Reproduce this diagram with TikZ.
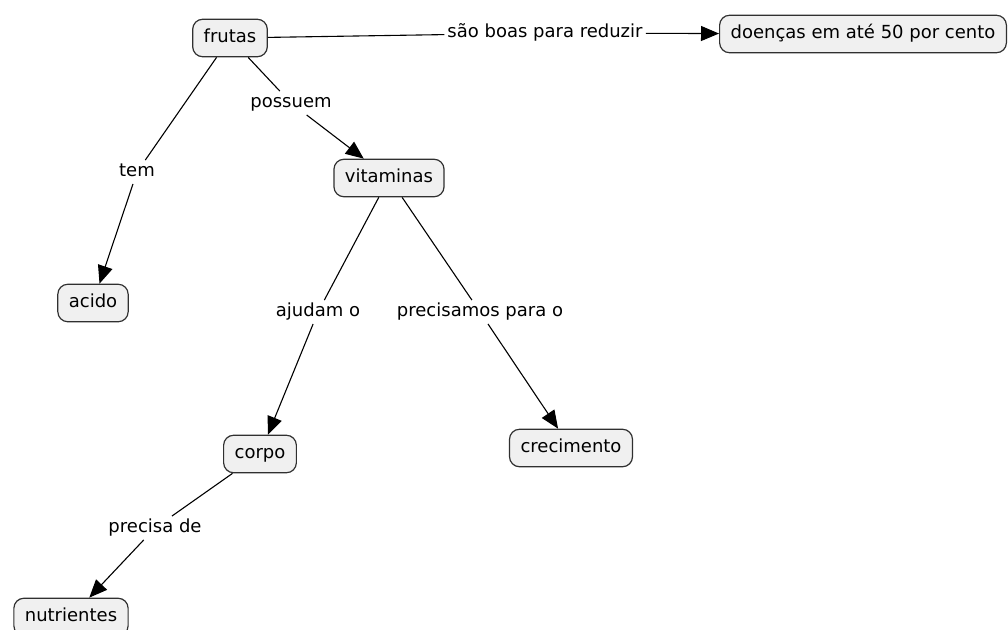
\documentclass[tikz,border=0pt]{standalone}
\usepackage{fontspec}
\setmainfont{DejaVu Sans}
\usetikzlibrary{arrows.meta}
\definecolor{conceptfill}{HTML}{F0F0F0}
\definecolor{conceptline}{HTML}{303030}
\tikzset{
  conceptfont/.style={font=\fontsize{18}{21}\selectfont, text height=13.5pt, text depth=4pt},
  concept/.style={conceptfont, draw=conceptline, fill=conceptfill, line width=1.2pt, rounded corners=10pt,
    inner xsep=11pt, inner ysep=10pt},
  linklabel/.style={conceptfont, fill=white, inner sep=3pt},
  link/.style={line width=1.1pt, draw=black},
  linkarrow/.style={link, -{Triangle[length=18pt,width=15pt]}}
}
\begin{document}
\begin{tikzpicture}[x=1pt,y=-1pt]
\useasboundingbox (0,0) rectangle (1008,629);
% concepts
\node[concept] (frutas) at (230,38) {frutas};
\node[concept] (doencas) at (863,34) {doenças em até 50 por cento};
\node[concept] (vitaminas) at (389,178) {vitaminas};
\node[concept] (acido) at (93,303) {acido};
\node[concept] (corpo) at (260,454) {corpo};
\node[concept] (crecimento) at (571,448) {crecimento};
\node[concept] (nutrientes) at (71,617) {nutrientes};
% link phrases
\node[linklabel] (reduzir) at (545,33) {são boas para reduzir};
\node[linklabel] (possuem) at (291,103) {possuem};
\node[linklabel] (tem) at (137,172) {tem};
\node[linklabel] (ajudam) at (318,312) {ajudam o};
\node[linklabel] (precisamos) at (480,312) {precisamos para o};
\node[linklabel] (precisa) at (155,528) {precisa de};
% connectors
\draw[link] (frutas) -- (reduzir);
\draw[linkarrow] (reduzir) -- (doencas);
\draw[link] (frutas) -- (possuem);
\draw[linkarrow] (possuem) -- (vitaminas);
\draw[link] (frutas) -- (tem);
\draw[linkarrow] (tem) -- (acido);
\draw[link] (vitaminas) -- (ajudam);
\draw[linkarrow] (ajudam) -- (corpo);
\draw[link] (vitaminas) -- (precisamos);
\draw[linkarrow] (precisamos) -- (crecimento);
\draw[link] (corpo) -- (precisa);
\draw[linkarrow] (precisa) -- (nutrientes);
\end{tikzpicture}
\end{document}
